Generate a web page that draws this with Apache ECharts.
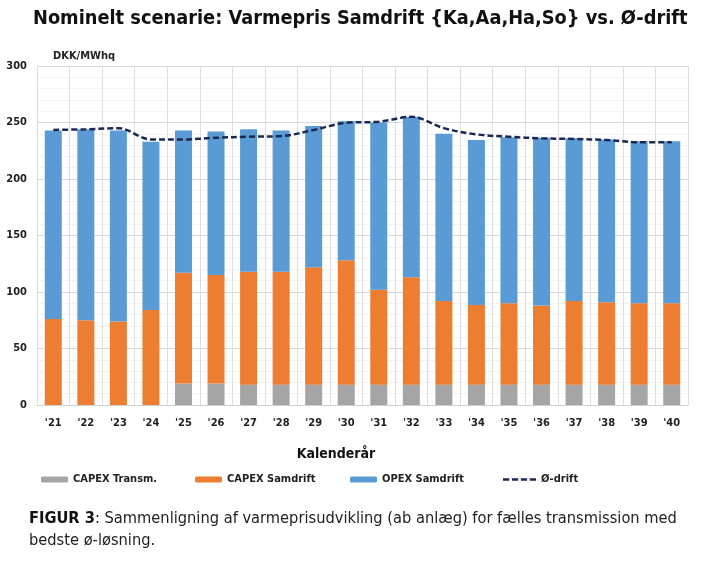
<!DOCTYPE html>
<html>
<head>
<meta charset="utf-8">
<script src="https://cdn.jsdelivr.net/npm/echarts@6/dist/echarts.min.js"></script>
<style>html,body{margin:0;padding:0;background:#fff}#c{width:704px;height:566px}</style>
</head>
<body>
<div id="c"></div>
<script>
const years = ["'21","'22","'23","'24","'25","'26","'27","'28","'29","'30","'31","'32","'33","'34","'35","'36","'37","'38","'39","'40"];
const capexTransm = [0,0,0,0,19,19,18,18,18,18,18,18,18,18,18,18,18,18,18,18];
const capexSamdrift = [76,75,74,84,98,96,100,100,104,110,84,95,74,70.5,72,70,74,73,72,72];
const opexSamdrift = [167,169,169,149,126,127,126,125,125,123,148,142,148,146,147,148.5,144,144,143.5,143.5];
const oDrift = [243.4,244,245,235,235,236.5,237.4,238,243.4,249.8,250.7,255,245,239.5,237.4,236,235.4,234.5,232.5,232.5];
const yTicks = {min:0, max:300, interval:50};

const F = '"DejaVu Sans Condensed", "Liberation Sans Narrow", sans-serif';
const chart = echarts.init(document.getElementById('c'));
const legendBase = {top: 469, itemWidth: 27, itemHeight: 6, itemGap: 6,
  textStyle: {fontFamily: F, fontWeight: 'bold', fontSize: 11, color: '#222'}};
chart.setOption({
  animation: false,
  title: [
    {text: 'Nominelt scenarie: Varmepris Samdrift {Ka,Aa,Ha,So} vs. Ø-drift', left: 28, top: 4,
     textStyle: {fontFamily: F, fontWeight: 'bold', fontSize: 19.8, color: '#111'}},
    {text: 'DKK/MWhq', left: 48, top: 46, textStyle: {fontFamily: F, fontWeight: 'bold', fontSize: 11, color: '#222'}},
    {text: 'Kalenderår', left: 331, top: 442, textAlign: 'center', textStyle: {fontFamily: F, fontWeight: 'bold', fontSize: 14, color: '#111'}},
    {text: '{b|FIGUR 3}: Sammenligning af varmeprisudvikling (ab anlæg) for fælles transmission med\nbedste ø-løsning.',
     left: 24, top: 503,
     textStyle: {fontFamily: F, fontWeight: 'normal', fontSize: 16.3, lineHeight: 22, color: '#222',
       rich: {b: {fontFamily: F, fontWeight: 'bold', fontSize: 16.3, color: '#111'}}}}
  ],
  legend: [
    Object.assign({left: 36, data: ['CAPEX Transm.']}, legendBase),
    Object.assign({left: 190, data: ['CAPEX Samdrift']}, legendBase),
    Object.assign({left: 345, data: ['OPEX Samdrift']}, legendBase),
    Object.assign({left: 498, data: [{name: 'Ø-drift', icon: 'path://M0,0H7V3H0Z M10,0H17V3H10Z M20,0H27V3H20Z M30,0H37V3H30Z'}]}, legendBase, {itemWidth: 33, itemHeight: 3})
  ],
  grid: {left: 37, right: 16, top: 66, bottom: 161},
  xAxis: {
    type: 'category', data: years,
    axisLine: {lineStyle: {color: '#d0d0d0'}},
    axisTick: {show: false},
    axisLabel: {fontFamily: F, fontWeight: 'bold', fontSize: 11, color: '#222', margin: 13},
    splitLine: {show: true, lineStyle: {color: '#dedede'}}
  },
  yAxis: {
    type: 'value', min: yTicks.min, max: yTicks.max, interval: yTicks.interval,
    axisLine: {show: false}, axisTick: {show: false},
    axisLabel: {fontFamily: F, fontWeight: 'bold', fontSize: 11, color: '#222', margin: 10},
    splitLine: {lineStyle: {color: '#d9d9d9'}},
    minorTick: {show: false, splitNumber: 5},
    minorSplitLine: {show: true, lineStyle: {color: '#f3f3f3'}}
  },
  series: [
    {name: 'CAPEX Transm.', type: 'bar', stack: 't', barWidth: 17, data: capexTransm, itemStyle: {color: '#a5a5a5'}},
    {name: 'CAPEX Samdrift', type: 'bar', stack: 't', data: capexSamdrift, itemStyle: {color: '#ed7d31'}},
    {name: 'OPEX Samdrift', type: 'bar', stack: 't', data: opexSamdrift, itemStyle: {color: '#5b9bd5'}},
    {name: 'Ø-drift', type: 'line', data: oDrift, smooth: 0.35, symbol: 'none', z: 5,
     lineStyle: {color: '#1c2853', width: 2.5, type: [6, 3]}, itemStyle: {color: '#1c2853'}}
  ]
});
</script>
</body>
</html>
